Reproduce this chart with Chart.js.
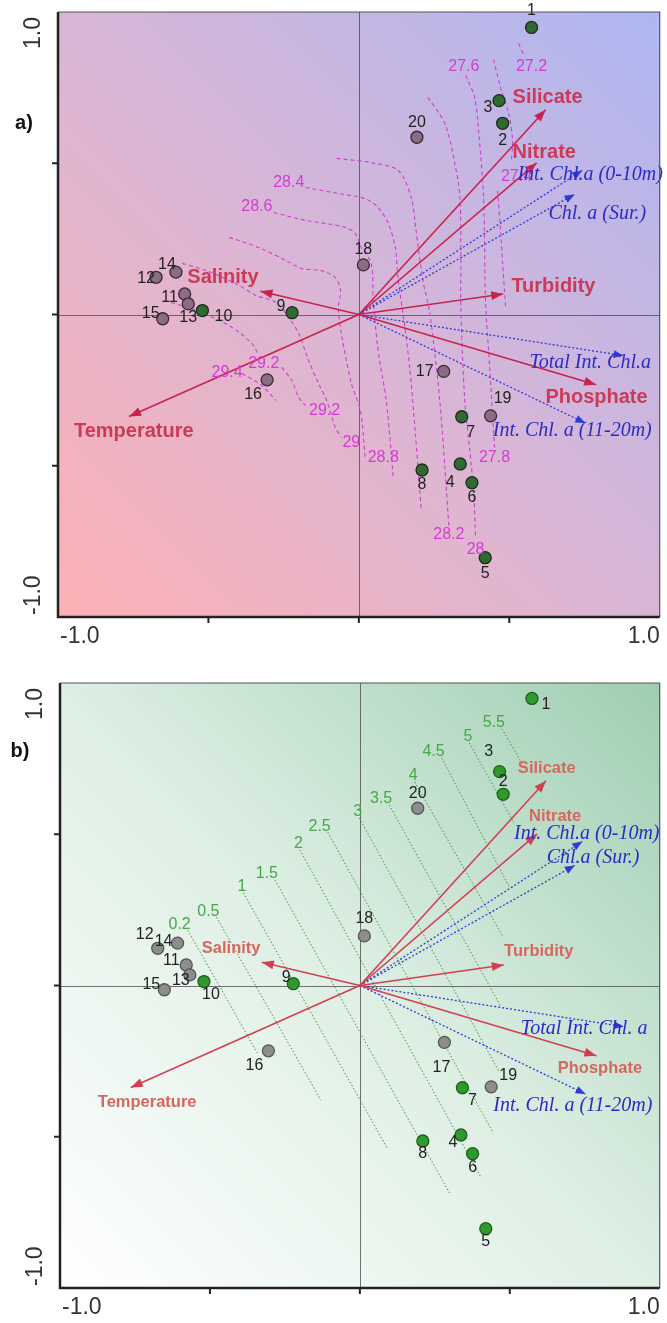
<!DOCTYPE html>
<html><head><meta charset="utf-8">
<script src="https://cdn.jsdelivr.net/npm/chart.js@4.4.1/dist/chart.umd.min.js"></script>
<style>
html,body{margin:0;padding:0;background:#fff;width:667px;height:1323px;overflow:hidden}
canvas{position:absolute;left:0}
#ca{top:0}
#cb{top:650px}
</style></head><body>
<canvas id="ca" width="667" height="650"></canvas>
<canvas id="cb" width="667" height="673"></canvas>
<script>
// ---------- DATA ----------
const siteNames = ['1','2','3','4','5','6','7','8','9','10','11','12','13','14','15','16','17','18','19','20'];
const siteX = [0.574,0.478,0.466,0.337,0.420,0.376,0.342,0.210,-0.222,-0.520,-0.579,-0.674,-0.567,-0.608,-0.652,-0.305,0.282,0.015,0.438,0.193];
const siteY = [0.949,0.632,0.707,-0.494,-0.804,-0.556,-0.338,-0.514,0.006,0.013,0.068,0.123,0.035,0.140,-0.014,-0.216,-0.188,0.164,-0.335,0.586];
const siteGroup = ['g','g','g','g','g','g','g','g','g','g','p','p','p','p','p','p','p','p','p','p'];

const vectorKind = ['env','env','env','env','env','env','chl','chl','chl','chl'];
const vectorNamesA = ['Silicate','Nitrate','Turbidity','Phosphate','Salinity','Temperature','Int. Chl.a (0-10m)','Chl. a (Sur.)','Total Int. Chl.a','Int. Chl. a (11-20m)'];
const vectorNamesB = ['Silicate','Nitrate','Turbidity','Phosphate','Salinity','Temperature','Int. Chl.a (0-10m)','Chl.a (Sur.)','Total Int. Chl. a','Int. Chl. a (11-20m)'];
const vectorX = [0.621,0.591,0.480,0.789,-0.327,-0.764,0.742,0.717,0.880,0.753];
const vectorY = [0.677,0.501,0.068,-0.232,0.077,-0.337,0.476,0.397,-0.136,-0.359];
const vectorLabelXA = [0.511,0.511,0.507,0.620,-0.570,-0.947,0.527,0.630,0.567,0.445];
const vectorLabelYA = [0.717,0.536,0.093,-0.274,0.122,-0.387,0.463,0.334,-0.159,-0.383];
const vectorLabelXB = [0.527,0.564,0.481,0.660,-0.527,-0.874,0.514,0.623,0.537,0.445];
const vectorLabelYB = [0.719,0.560,0.114,-0.273,0.124,-0.388,0.501,0.421,-0.144,-0.398];

// Temperature isolines (panel a)
const temp27_2 = [[0.531,0.896],[0.550,0.853]];
const temp27_4 = [[0.448,0.843],[0.471,0.750],[0.498,0.664],[0.511,0.575],[0.507,0.509],null,[0.461,0.410],[0.471,0.278],[0.478,0.169],[0.488,0.023]];
const temp27_6 = [[0.355,0.790],[0.385,0.717],[0.398,0.608],[0.415,0.377],[0.421,0.046],[0.435,-0.175],[0.445,-0.340],[0.451,-0.440]];
const temp28_0 = [[0.230,0.717],[0.286,0.631],[0.319,0.499],[0.336,0.387],[0.339,0.169],[0.339,0.023],[0.352,-0.284],[0.369,-0.450],[0.382,-0.592],[0.388,-0.740]];
const temp28_2 = [[-0.074,0.516],[0.041,0.502],[0.131,0.476],[0.174,0.387],[0.190,0.278],[0.213,0.112],[0.236,0.003],[0.269,-0.284],[0.286,-0.506],[0.299,-0.698]];
const temp28_4 = [[-0.177,0.420],[-0.068,0.400],[0.021,0.383],[0.064,0.354],[0.098,0.301],[0.121,0.221],[0.131,0.112],[0.150,-0.020],[0.170,-0.185],[0.187,-0.383],[0.207,-0.641]];
const temp28_6 = [[-0.283,0.337],[-0.177,0.311],[-0.111,0.301],[-0.045,0.288],[-0.012,0.268],[0.008,0.221],[0.041,0.169],[0.048,0.046],[0.064,-0.119],[0.091,-0.284],[0.107,-0.450],[0.114,-0.539]];
const temp28_8 = [[-0.431,0.255],[-0.332,0.221],[-0.243,0.179],[-0.190,0.152],[-0.124,0.145],[-0.078,0.122],[-0.061,0.079],[-0.068,0.023],[-0.058,-0.063],[-0.025,-0.228],[0.005,-0.317],[0.021,-0.473]];
const temp29_0 = [[-0.587,0.169],[-0.507,0.145],[-0.408,0.102],[-0.342,0.063],[-0.276,0.040],[-0.233,-0.010],[-0.200,-0.063],[-0.167,-0.152],[-0.134,-0.228],[-0.107,-0.284],[-0.078,-0.374],[-0.058,-0.407]];
const temp29_2 = [[-0.646,0.046],[-0.531,0.010],[-0.421,-0.043],[-0.355,-0.096],[-0.335,-0.130],null,[-0.256,-0.175],[-0.223,-0.218],[-0.200,-0.274],[-0.177,-0.301]];
const temp29_4 = [[-0.388,-0.195],[-0.322,-0.235],[-0.276,-0.284]];
const tempLabelText = ['27.2','27.4','27.6','27.8','28','28.2','28.4','28.6','28.8','29','29.2','29.2','29.4'];
const tempLabelX = [0.574,0.524,0.349,0.451,0.388,0.299,-0.233,-0.339,0.081,-0.025,-0.316,-0.114,-0.438];
const tempLabelY = [0.820,0.456,0.820,-0.473,-0.777,-0.727,0.436,0.357,-0.473,-0.423,-0.162,-0.317,-0.192];

// Chl.a isolines (panel b)
const chlLevels = ['0.2','0.5','1','1.5','2','2.5','3','3.5','4','4.5','5','5.5'];
const chlX1 = [-0.574,-0.478,-0.388,-0.283,-0.200,-0.107,-0.002,0.098,0.183,0.273,0.365,0.474];
const chlY1 = [0.183,0.226,0.306,0.349,0.448,0.507,0.554,0.597,0.673,0.752,0.802,0.848];
const chlX2 = [-0.342,-0.130,0.091,0.299,0.405,0.445,0.465,0.471,0.478,0.498,0.514,0.544];
const chlY2 = [-0.223,-0.379,-0.537,-0.686,-0.636,-0.488,-0.286,-0.071,0.160,0.326,0.537,0.729];

const axisTickLabels = ['-1.0','1.0'];
const axisTicks = [-0.5,0,0.5];

// label offsets (pixels) for site numbers
const siteLabelOffA = [[0,-17],[0,17],[-11,7],[-10,19],[0,16],[0,15],[9,16],[0,15],[-11,-6],[21,6],[-15,4],[-10,1],[0,14],[-9,-8],[-12,-5],[-14,15],[-19,0],[0,-15],[12,-17],[0,-15]];
const siteLabelOffB = [[14,6],[0,-13],[-11,-20],[-8,8],[0,13],[0,14],[10,13],[0,13],[-7,-6],[7,13],[-15,-4],[-13,-14],[-9,6],[-14,-2],[-13,-5],[-14,15],[-3,25],[0,-17],[17,-11],[0,-15]];

// ---------- DRAWING ----------
const tempLines = [temp27_2,temp27_4,temp27_6,temp28_0,temp28_2,temp28_4,temp28_6,temp28_8,temp29_0,temp29_2,temp29_4];
const toPts = arr => arr.map(p => p ? {x:p[0], y:p[1]} : {x:null, y:null});

function arrowHead(ctx,x0,y0,x1,y1,color,len,half){
  const a=Math.atan2(y1-y0,x1-x0), c=Math.cos(a), s=Math.sin(a);
  ctx.beginPath();
  ctx.moveTo(x1,y1);
  ctx.lineTo(x1-len*c+half*s, y1-len*s-half*c);
  ctx.lineTo(x1-len*c-half*s, y1-len*s+half*c);
  ctx.closePath(); ctx.fillStyle=color; ctx.fill();
}

function buildPanel(id, P){
  const datasets = [];
  // sites
  datasets.push({
    type:'scatter', order:0,
    data: siteX.map((x,i)=>({x, y:siteY[i]})),
    pointRadius:6, pointHoverRadius:6,
    pointBackgroundColor: siteGroup.map(g=> g==='g'? P.green : P.other),
    pointBorderColor: siteGroup.map(g=> g==='g'? P.greenBorder : P.otherBorder),
    pointBorderWidth:1.3, showLine:false
  });
  // vectors
  vectorX.forEach((vx,i)=>{
    const env = vectorKind[i]==='env';
    datasets.push({
      type:'line', order:1,
      data:[{x:0,y:0},{x:vx,y:vectorY[i]}],
      borderColor: env? P.envColor : P.chlColor,
      borderWidth: env? 1.6 : 1.3,
      borderDash: env? [] : [2,2],
      pointRadius:0, fill:false, tension:0
    });
  });
  // isolines
  if (P.kind==='a'){
    tempLines.forEach(line=>{
      datasets.push({type:'line', order:2, data:toPts(line), borderColor:'#cf3fcf', borderWidth:1.1, borderDash:[4,3], pointRadius:0, fill:false, tension:0.3, spanGaps:false});
    });
  } else {
    chlLevels.forEach((l,i)=>{
      datasets.push({type:'line', order:2, data:[{x:chlX1[i],y:chlY1[i]},{x:chlX2[i],y:chlY2[i]}], borderColor:'#3f963f', borderWidth:1, borderDash:[1.5,2], pointRadius:0, fill:false});
    });
  }

  const plugin = {
    id:'deco'+id,
    beforeDatasetsDraw(chart){
      const ctx=chart.ctx, a=chart.chartArea, sx=chart.scales.x, sy=chart.scales.y;
      ctx.save();
      const g=ctx.createLinearGradient(a.left,a.bottom,a.right,a.top);
      P.bg.forEach(s=>g.addColorStop(s[0],s[1]));
      ctx.fillStyle=g; ctx.fillRect(a.left,a.top,a.right-a.left,a.bottom-a.top);
      ctx.strokeStyle='rgba(70,70,70,0.75)'; ctx.lineWidth=1;
      const x0=Math.round(sx.getPixelForValue(0))+0.5, y0=Math.round(sy.getPixelForValue(0))+0.5;
      ctx.beginPath(); ctx.moveTo(x0,a.top); ctx.lineTo(x0,a.bottom); ctx.moveTo(a.left,y0); ctx.lineTo(a.right,y0); ctx.stroke();
      ctx.restore();
    },
    afterDatasetsDraw(chart){
      const ctx=chart.ctx, a=chart.chartArea, sx=chart.scales.x, sy=chart.scales.y;
      const px=v=>sx.getPixelForValue(v), py=v=>sy.getPixelForValue(v);
      ctx.save();
      // arrowheads
      vectorX.forEach((vx,i)=>{
        const env=vectorKind[i]==='env';
        arrowHead(ctx,px(0),py(0),px(vx),py(vectorY[i]), env?P.envColor:P.chlColor, env?12:10, env?4.5:4);
      });
      // isoline labels
      ctx.textAlign='center'; ctx.textBaseline='middle';
      if (P.kind==='a'){
        ctx.font='16px "Liberation Sans", Arial, sans-serif'; ctx.fillStyle='#d63ad6';
        tempLabelText.forEach((t,i)=>ctx.fillText(t,px(tempLabelX[i]),py(tempLabelY[i])));
      } else {
        ctx.font='16px "Liberation Sans", Arial, sans-serif'; ctx.fillStyle='#48a548';
        ctx.textAlign='right'; ctx.textBaseline='bottom';
        chlLevels.forEach((t,i)=>ctx.fillText(t,px(chlX1[i])+3,py(chlY1[i])+2));
      }
      // vector labels
      ctx.textAlign='left'; ctx.textBaseline='middle';
      vectorX.forEach((vx,i)=>{
        const env=vectorKind[i]==='env';
        if(env){ ctx.font=P.envFont; ctx.fillStyle=P.envText; }
        else { ctx.font='italic 20px "Liberation Serif", "Times New Roman", serif'; ctx.fillStyle='#2b2bc4'; }
        ctx.fillText(P.names[i], px(P.lx[i]), py(P.ly[i]));
      });
      // site labels
      ctx.font='16px "Liberation Sans", Arial, sans-serif'; ctx.fillStyle='#222';
      ctx.textAlign='center'; ctx.textBaseline='middle';
      siteNames.forEach((n,i)=>{
        const o=P.off[i];
        ctx.fillText(n, px(siteX[i])+o[0], py(siteY[i])+o[1]);
      });
      // frame
      ctx.strokeStyle='#555'; ctx.lineWidth=1.2;
      ctx.beginPath(); ctx.moveTo(a.left,a.top); ctx.lineTo(a.right,a.top); ctx.lineTo(a.right,a.bottom); ctx.stroke();
      ctx.strokeStyle='#222'; ctx.lineWidth=2.5;
      ctx.beginPath(); ctx.moveTo(a.left,a.top); ctx.lineTo(a.left,a.bottom); ctx.lineTo(a.right,a.bottom); ctx.stroke();
      // ticks
      ctx.lineWidth=2;
      axisTicks.forEach(t=>{
        ctx.beginPath(); ctx.moveTo(px(t),a.bottom); ctx.lineTo(px(t),a.bottom+6); ctx.stroke();
        ctx.beginPath(); ctx.moveTo(a.left,py(t)); ctx.lineTo(a.left-6,py(t)); ctx.stroke();
      });
      // tick labels
      ctx.fillStyle='#333'; ctx.font='23px "Liberation Sans", Arial, sans-serif';
      ctx.textBaseline='top';
      ctx.textAlign='left'; ctx.fillText(axisTickLabels[0], px(-1)+2, a.bottom+8);
      ctx.textAlign='right'; ctx.fillText(axisTickLabels[1], px(1), a.bottom+8);
      ctx.save(); ctx.translate(a.left-32, py(1)+5); ctx.rotate(-Math.PI/2);
      ctx.textAlign='right'; ctx.textBaseline='middle'; ctx.fillText(axisTickLabels[1],0,8); ctx.restore();
      ctx.save(); ctx.translate(a.left-32, py(-1)-2); ctx.rotate(-Math.PI/2);
      ctx.textAlign='left'; ctx.textBaseline='middle'; ctx.fillText(axisTickLabels[0],0,8); ctx.restore();
      // panel letter
      ctx.fillStyle='#111'; ctx.font='bold 20px "Liberation Sans", Arial, sans-serif';
      ctx.textAlign='center'; ctx.textBaseline='middle';
      ctx.fillText(P.letter, P.letterPos[0], P.letterPos[1]);
      ctx.restore();
    }
  };

  return new Chart(document.getElementById(id), {
    type:'scatter',
    data:{datasets},
    options:{
      responsive:false, animation:false, devicePixelRatio:1,
      layout:{padding:P.padding},
      plugins:{legend:{display:false}, tooltip:{enabled:false}},
      scales:{
        x:{type:'linear', min:-1, max:1, display:false},
        y:{type:'linear', min:-1, max:1, display:false}
      },
      elements:{line:{borderCapStyle:'butt'}}
    },
    plugins:[plugin]
  });
}

buildPanel('ca', {
  kind:'a', letter:'a)', letterPos:[24,123],
  padding:{left:58, right:4, top:12, bottom:33},
  bg:[[0,'#fdb1b5'],[0.5,'#d9b6d6'],[1,'#aeb6f2']],
  green:'#2f6a30', greenBorder:'#1c2a1c', other:'#8c6b85', otherBorder:'#3a2a36',
  envColor:'#c8234d', chlColor:'#2f3bd8', envText:'#cc3a58',
  envFont:'bold 20px "Liberation Sans", Arial, sans-serif',
  names:vectorNamesA, lx:vectorLabelXA, ly:vectorLabelYA, off:siteLabelOffA
});
buildPanel('cb', {
  kind:'b', letter:'b)', letterPos:[20,101],
  padding:{left:60, right:2, top:33, bottom:35},
  bg:[[0,'#ffffff'],[0.5,'#deefe4'],[1,'#9fceb2']],
  green:'#2e9a2e', greenBorder:'#1d5e1d', other:'#8d8d8d', otherBorder:'#555',
  envColor:'#d43f50', chlColor:'#2f3bd8', envText:'#d6675f',
  envFont:'bold 16.5px "Liberation Sans", Arial, sans-serif',
  names:vectorNamesB, lx:vectorLabelXB, ly:vectorLabelYB, off:siteLabelOffB
});
</script>
</body></html>
